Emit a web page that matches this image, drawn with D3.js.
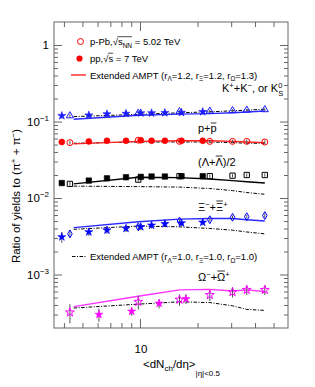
<!DOCTYPE html>
<html><head><meta charset="utf-8">
<script src="https://cdn.jsdelivr.net/npm/d3@7"></script>
<style>
body{margin:0;background:#fff}
svg{display:block}
text{font-family:"Liberation Sans",Arial,Helvetica,sans-serif;fill:#000}
</style>
</head><body>
<svg id="c" width="315" height="387"></svg>
<script>
// ---- data ----
const xPPb = [4.3, 9.8, 16.1, 23.2, 30.5, 36.2, 45.0];
const xPP = [3.90, 5.40, 6.72, 8.45, 10.1, 11.5, 13.5, 16.5, 21.3];
const xPPOmega = [6.1, 9.05, 12.6, 17.4];
const xModel = [4.5, 9.8, 16.1, 23.2, 30.5, 36.2, 45.0];

const kaonPPb = [0.119, 0.129, 0.135, 0.137, 0.139, 0.141, 0.143];
const kaonPPbErr = [0.006, 0.006, 0.006, 0.006, 0.006, 0.006, 0.006];
const kaonPP = [0.119, 0.121, 0.125, 0.127, 0.129, 0.129, 0.130, 0.131, 0.134];
const kaonPPErr = [0.010, 0.010, 0.010, 0.010, 0.010, 0.010, 0.010, 0.010, 0.010];
const kaonAMPT12 = [0.107, 0.121, 0.125, 0.127, 0.130, 0.133, 0.137];
const kaonAMPT10 = [0.116, 0.124, 0.130, 0.134, 0.138, 0.141, 0.145];

const protonPPb = [0.053, 0.057, 0.055, 0.055, 0.055, 0.055, 0.054];
const protonPPbErr = [0.003, 0.003, 0.003, 0.003, 0.003, 0.003, 0.003];
const protonPP = [0.054, 0.055, 0.056, 0.056, 0.057, 0.056, 0.056, 0.056, 0.056];
const protonPPErr = [0.004, 0.004, 0.004, 0.004, 0.004, 0.004, 0.004, 0.004, 0.004];
const protonAMPT12 = [0.051, 0.055, 0.056, 0.056, 0.055, 0.054, 0.053];
const protonAMPT10 = [0.052, 0.054, 0.054, 0.054, 0.053, 0.052, 0.052];

const lambdaPPb = [0.0153, 0.0174, 0.0193, 0.0193, 0.0196, 0.0200, 0.0200];
const lambdaPPbErr = [0.0010, 0.0010, 0.0010, 0.0010, 0.0010, 0.0010, 0.0010];
const lambdaPP = [0.0157, 0.0169, 0.0181, 0.0187, 0.0189, 0.0191, 0.0191, 0.0193, 0.0193];
const lambdaPPErr = [0.0012, 0.0012, 0.0012, 0.0012, 0.0012, 0.0012, 0.0012, 0.0012, 0.0012];
const lambdaAMPT12 = [0.0153, 0.0187, 0.0185, 0.0177, 0.0169, 0.0163, 0.0157];
const lambdaAMPT10 = [0.0143, 0.0141, 0.0139, 0.0133, 0.0125, 0.0118, 0.0112];

const xiPPb = [0.0034, 0.0042, 0.0050, 0.0052, 0.0056, 0.0057, 0.0059];
const xiPPbErr = [0.0004, 0.0003, 0.0003, 0.0003, 0.0003, 0.0003, 0.0004];
const xiPP = [0.0031, 0.0036, 0.0038, 0.0040, 0.0042, 0.0044, 0.0046, 0.0047, 0.0048];
const xiPPErr = [0.0005, 0.0004, 0.0004, 0.0004, 0.0004, 0.0004, 0.0004, 0.0004, 0.0004];
const xiAMPT12 = [0.0041, 0.0049, 0.0053, 0.0054, 0.0054, 0.0052, 0.0050];
const xiAMPT10 = [0.0039, 0.0043, 0.0042, 0.0040, 0.0038, 0.0036, 0.0034];

const omegaPPb = [0.00032, 0.00044, 0.00047, 0.00054, 0.00059, 0.00063, 0.00063];
const omegaPPbErr = [0.00009, 0.00009, 0.00008, 0.00009, 0.00009, 0.00009, 0.00009];
const omegaPP = [0.00030, 0.00033, 0.00042, 0.00048];
const omegaPPErr = [0.00006, 0.00004, 0.00006, 0.00007];
const omegaAMPT12 = [0.00038, 0.00052, 0.00063, 0.00064, 0.00061, 0.00063, 0.00060];
const omegaAMPT10 = [0.000365, 0.00041, 0.00044, 0.00043, 0.00039, 0.00035, 0.00034];

const yMajor = [1e-3, 1e-2, 1e-1, 1];
const yLabels = [["10","\u22123"],["10","\u22122"],["10","\u22121"],["1",""]];
const xMajor = [10];
const xMinor = [4, 5, 6, 7, 8, 9, 20, 30, 40, 50];
const xLabels = ["10"];

// ---- setup ----
const svg = d3.select("#c");
const L = 54, R = 288, T = 22, B = 328;
const x = d3.scaleLog().domain([3.55, 59.5]).range([L, R]);
const y = d3.scaleLog().domain([2e-4, 2]).range([B, T]);

const yMinor = [];
for (let e = -4; e <= 0; e++) for (let k = 2; k <= 9; k++) {
  const v = k * Math.pow(10, e);
  if (v > 2e-4 && v < 2) yMinor.push(v);
}

const axisCol = "#666";
function styleAxis(g) {
  g.select(".domain").remove();
  g.selectAll("line").attr("stroke", axisCol);
  g.selectAll("text").remove();
}
svg.append("g").attr("transform", `translate(${L},0)`).call(d3.axisLeft(y).tickValues(yMajor).tickSize(-8)).call(styleAxis);
svg.append("g").attr("transform", `translate(${L},0)`).call(d3.axisLeft(y).tickValues(yMinor).tickSize(-4)).call(styleAxis);
svg.append("g").attr("transform", `translate(${R},0)`).call(d3.axisRight(y).tickValues(yMajor).tickSize(-8)).call(styleAxis);
svg.append("g").attr("transform", `translate(${R},0)`).call(d3.axisRight(y).tickValues(yMinor).tickSize(-4)).call(styleAxis);
svg.append("g").attr("transform", `translate(0,${B})`).call(d3.axisBottom(x).tickValues(xMajor).tickSize(-9)).call(styleAxis);
svg.append("g").attr("transform", `translate(0,${B})`).call(d3.axisBottom(x).tickValues(xMinor).tickSize(-5)).call(styleAxis);
svg.append("g").attr("transform", `translate(0,${T})`).call(d3.axisTop(x).tickValues(xMajor).tickSize(-9)).call(styleAxis);
svg.append("g").attr("transform", `translate(0,${T})`).call(d3.axisTop(x).tickValues(xMinor).tickSize(-5)).call(styleAxis);
svg.append("rect").attr("x", L).attr("y", T).attr("width", R - L).attr("height", B - T)
  .attr("fill", "none").attr("stroke", axisCol).attr("stroke-width", 1);

// tick labels
yMajor.forEach((v, i) => {
  const t = svg.append("text").attr("x", L - 5).attr("y", y(v) + 4).attr("text-anchor", "end").attr("font-size", 11.5);
  t.append("tspan").text(yLabels[i][0]);
  if (yLabels[i][1]) t.append("tspan").attr("dy", -5).attr("font-size", 8).text(yLabels[i][1]);
});
xMajor.forEach((v, i) => {
  svg.append("text").attr("x", x(v) + 1).attr("y", 353).attr("text-anchor", "middle").attr("font-size", 11.5).text(xLabels[i]);
});

// axis titles
const xt = svg.append("text").attr("x", 143).attr("y", 368).attr("font-size", 11.5);
xt.append("tspan").text("<dN");
xt.append("tspan").attr("dy", 3).attr("font-size", 8).text("ch");
xt.append("tspan").attr("dy", -3).text("/d\u03b7>");
xt.append("tspan").attr("dy", 8).attr("font-size", 8).text("|\u03b7|<0.5");

const yt = svg.append("text").attr("transform", "translate(19.5,196) rotate(-90)").attr("text-anchor", "middle").attr("font-size", 11.5);
yt.append("tspan").text("Ratio of yields to (\u03c0");
yt.append("tspan").attr("dy", -4).attr("font-size", 8).text("+");
yt.append("tspan").attr("dy", 4).text(" + \u03c0");
yt.append("tspan").attr("dy", -4).attr("font-size", 8).text("\u2212");
yt.append("tspan").attr("dy", 4).text(")");

// ---- model curves ----
const line = d3.line().x(d => x(d[0])).y(d => y(d[1]));
const dashDot = "3.5,1.5,1,1.5";
const species = [
  {pPb: kaonPPb, pPbErr: kaonPPbErr, pp: kaonPP, ppErr: kaonPPErr, xpp: xPP, m12: kaonAMPT12, m10: kaonAMPT10, color: "#1a1aff", open: d3.symbolTriangle, openSize: 22, filled: d3.symbolStar, filledSize: 20},
  {pPb: protonPPb, pPbErr: protonPPbErr, pp: protonPP, ppErr: protonPPErr, xpp: xPP, m12: protonAMPT12, m10: protonAMPT10, color: "#ff0000", open: d3.symbolCircle, openSize: 28, filled: d3.symbolCircle, filledSize: 28},
  {pPb: lambdaPPb, pPbErr: lambdaPPbErr, pp: lambdaPP, ppErr: lambdaPPErr, xpp: xPP, m12: lambdaAMPT12, m10: lambdaAMPT10, color: "#000000", open: d3.symbolSquare, openSize: 28, filled: d3.symbolSquare, filledSize: 30},
  {pPb: xiPPb, pPbErr: xiPPbErr, pp: xiPP, ppErr: xiPPErr, xpp: xPP, m12: xiAMPT12, m10: xiAMPT10, color: "#0000ff", open: d3.symbolDiamond, openSize: 18, filled: d3.symbolStar, filledSize: 20},
  {pPb: omegaPPb, pPbErr: omegaPPbErr, pp: omegaPP, ppErr: omegaPPErr, xpp: xPPOmega, m12: omegaAMPT12, m10: omegaAMPT10, color: "#ff00ff", open: d3.symbolStar, openSize: 24, filled: d3.symbolStar, filledSize: 20}
];
const lineColors = ["#2a2aff", "#ff2020", "#000000", "#2a2aff", "#ff33ff"];

species.forEach((s, i) => {
  svg.append("path").datum(xModel.map((v, j) => [v, s.m10[j]])).attr("d", line)
    .attr("fill", "none").attr("stroke", "#000").attr("stroke-width", 1).attr("stroke-dasharray", dashDot);
  svg.append("path").datum(xModel.map((v, j) => [v, s.m12[j]])).attr("d", line)
    .attr("fill", "none").attr("stroke", lineColors[i]).attr("stroke-width", 1.4);
});

// error bars
species.forEach(s => {
  const pts = xPPb.map((v, j) => [v, s.pPb[j], s.pPbErr[j]]).concat(s.xpp.map((v, j) => [v, s.pp[j], s.ppErr[j]]));
  svg.append("g").selectAll("line").data(pts).join("line")
    .attr("x1", d => x(d[0])).attr("x2", d => x(d[0]))
    .attr("y1", d => y(d[1] + d[2])).attr("y2", d => y(Math.max(d[1] - d[2], 2.1e-4)))
    .attr("stroke", "#555").attr("stroke-width", 1);
});

// markers
species.forEach(s => {
  svg.append("g").selectAll("path").data(s.xpp.map((v, j) => [v, s.pp[j]])).join("path")
    .attr("transform", d => `translate(${x(d[0])},${y(d[1])})`)
    .attr("d", d3.symbol().type(s.filled).size(s.filledSize))
    .attr("fill", s.color).attr("stroke", s.color).attr("stroke-width", 0.6);
  svg.append("g").selectAll("path").data(xPPb.map((v, j) => [v, s.pPb[j]])).join("path")
    .attr("transform", d => `translate(${x(d[0])},${y(d[1])})`)
    .attr("d", d3.symbol().type(s.open).size(s.openSize))
    .attr("fill", "none").attr("stroke", s.color).attr("stroke-width", 1);
});

// ---- particle labels ----
const fs = 11;
function lab(xp, yp) { return svg.append("text").attr("x", xp).attr("y", yp).attr("font-size", fs); }
function bar(t, idx, yp, h) {
  const n = t.node();
  const a = n.getStartPositionOfChar(idx).x, b = n.getEndPositionOfChar(idx).x;
  svg.append("line").attr("x1", a + 0.3).attr("x2", b - 0.3).attr("y1", yp - h).attr("y2", yp - h)
    .attr("stroke", "#000").attr("stroke-width", 0.8);
}
let t = lab(222, 92);
t.append("tspan").text("K");
t.append("tspan").attr("dy", -4.5).attr("font-size", 7.5).text("+");
t.append("tspan").attr("dy", 4.5).text("+K");
t.append("tspan").attr("dy", -4.5).attr("font-size", 7.5).text("\u2212");
t.append("tspan").attr("dy", 4.5).text(", or K");
t.append("tspan").attr("dy", -4.5).attr("font-size", 7.5).text("0");
t.append("tspan").attr("dx", -4).attr("dy", 8).attr("font-size", 7.5).text("S");

t = lab(198, 132);
t.append("tspan").text("p+p");
bar(t, 2, 132, 9);

t = lab(198, 166);
t.append("tspan").text("(\u039b+\u039b)/2");
bar(t, 3, 166, 10);

t = lab(198, 211);
t.append("tspan").text("\u039e");
t.append("tspan").attr("dy", -4.5).attr("font-size", 7.5).text("\u2212");
t.append("tspan").attr("dy", 4.5).text("+\u039e");
t.append("tspan").attr("dy", -4.5).attr("font-size", 7.5).text("+");
bar(t, 3, 211, 10);

t = lab(198, 281);
t.append("tspan").text("\u03a9");
t.append("tspan").attr("dy", -4.5).attr("font-size", 7.5).text("\u2212");
t.append("tspan").attr("dy", 4.5).text("+\u03a9");
t.append("tspan").attr("dy", -4.5).attr("font-size", 7.5).text("+");
bar(t, 3, 281, 10);

// ---- legend ----
const lfs = 9.5;
svg.append("path").attr("transform", "translate(80.5,41.5)").attr("d", d3.symbol().type(d3.symbolCircle).size(28))
  .attr("fill", "none").attr("stroke", "#ff0000").attr("stroke-width", 1);
svg.append("path").attr("transform", "translate(79.5,58.5)").attr("d", d3.symbol().type(d3.symbolCircle).size(30))
  .attr("fill", "#ff0000");
svg.append("line").attr("x1", 71).attr("x2", 86).attr("y1", 75).attr("y2", 75).attr("stroke", "#ff0000").attr("stroke-width", 1.2);
svg.append("line").attr("x1", 72).attr("x2", 86).attr("y1", 256.5).attr("y2", 256.5).attr("stroke", "#000").attr("stroke-width", 1).attr("stroke-dasharray", dashDot);

function sqrtText(yp, sub, rest) {
  const tt = svg.append("text").attr("x", 90).attr("y", yp).attr("font-size", lfs);
  const pre = sub ? "p-Pb," : "pp,";
  tt.append("tspan").text(pre + "\u221a");
  tt.append("tspan").text("s");
  if (sub) tt.append("tspan").attr("dy", 2.5).attr("font-size", 6.5).text(sub);
  tt.append("tspan").attr("dy", sub ? -2.5 : 0).text(rest);
  const node = tt.node();
  const i0 = pre.length + 1;
  const i1 = i0 + (sub ? sub.length : 0);
  const xa = node.getStartPositionOfChar(i0).x;
  const xb = node.getEndPositionOfChar(i1).x;
  svg.append("line").attr("x1", xa - 0.5).attr("x2", xb).attr("y1", yp - 8.3).attr("y2", yp - 8.3)
    .attr("stroke", "#000").attr("stroke-width", 0.7);
}
sqrtText(45, "NN", " = 5.02 TeV");
sqrtText(61.5, "", " = 7 TeV");

function amptText(yp, vals) {
  const tt = svg.append("text").attr("x", 90).attr("y", yp).attr("font-size", lfs);
  tt.append("tspan").text("Extended AMPT (r");
  const subs = ["\u039b", "\u039e", "\u03a9"];
  subs.forEach((sb, k) => {
    tt.append("tspan").attr("dy", 2.5).attr("font-size", 6.5).text(sb);
    tt.append("tspan").attr("dy", -2.5).text("=" + vals[k] + (k < 2 ? ", r" : ")"));
  });
}
amptText(78.5, ["1.2", "1.2", "1.3"]);
amptText(260, ["1.0", "1.0", "1.0"]);
</script>
</body></html>
